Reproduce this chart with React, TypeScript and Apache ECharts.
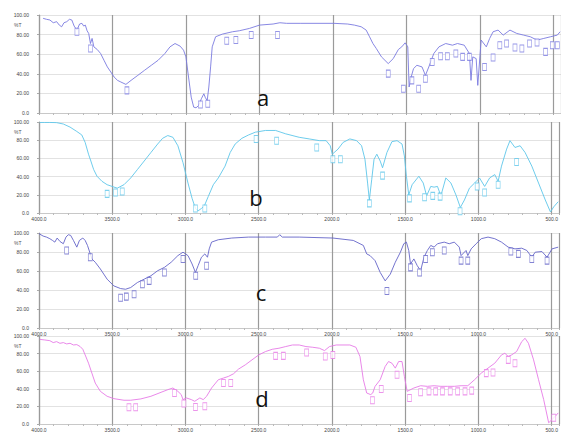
import React, { useEffect, useRef } from "react";
import * as echarts from "echarts";

// Spectrum a
const aWn = [3972,3949,3926,3903,3880,3862,3846,3830,3811,3793,3777,3761,3742,3724,3708,3696,3685,3673,3662,3650,3639,3627,3604,3581,3558,3535,3512,3489,3466,3443,3409,3374,3328,3282,3236,3190,3144,3109,3075,3040,3017,3001,2983,2965,2948,2932,2914,2896,2879,2868,2856,2845,2833,2822,2799,2753,2684,2638,2569,2500,2408,2362,2316,2224,1994,1901,1855,1809,1775,1752,1729,1706,1671,1625,1591,1556,1533,1510,1492,1483,1469,1453,1430,1395,1372,1349,1315,1280,1234,1188,1154,1108,1073,1062,1050,1027,1016,993,958,935,912,878,843,797,751,705,659,613,567,521,475,456];
const aT = [96.6,95.6,94.9,92.1,93.2,89.7,88.0,92.1,93.2,95.6,94.9,88.7,84.6,90.8,91.5,88.7,89.7,83.9,81.2,70.9,76.1,67.5,64.8,60.7,53.8,47.0,41.9,36.7,33.3,31.6,29.2,33.3,38.4,43.6,48.7,53.8,60.7,67.5,70.9,68.2,64.1,57.3,36.7,16.2,6.0,5.3,7.7,14.5,19.6,15.5,12.8,26.5,47.0,67.5,77.8,80.5,82.9,83.9,86.3,89.7,90.8,92.1,91.5,91.5,91.5,90.8,89.7,88.0,84.6,77.8,70.9,65.8,57.3,50.4,55.5,64.8,67.5,71.6,67.5,26.5,36.7,45.3,48.7,47.0,38.4,47.0,60.7,67.5,70.9,69.2,70.9,69.2,60.7,33.3,57.3,55.5,28.2,74.4,67.5,76.1,82.9,84.6,79.5,84.6,81.2,79.5,77.8,74.4,76.1,77.8,79.5,82.9];
const aPkWn = [3742,3650,3402,2902,2852,2723,2661,2557,2378,1625,1522,1464,1418,1372,1326,1269,1223,1165,1119,1073,970,912,866,820,763,716,664,613,555,509,475];
const aPkT = [82.9,65.8,23.1,8.7,9.4,73.7,74.4,79.5,79.5,40.2,24.8,33.3,24.8,35.0,52.1,57.9,57.9,60.7,57.3,57.3,47.0,56.6,69.2,70.9,66.8,65.8,70.9,72.0,62.4,69.2,69.2];

// Spectrum b
const bWn = [3995,3961,3926,3880,3834,3788,3742,3708,3685,3662,3646,3627,3604,3570,3535,3501,3466,3420,3374,3328,3282,3236,3190,3156,3121,3086,3052,3017,2983,2955,2932,2914,2891,2872,2845,2810,2776,2730,2695,2661,2615,2569,2523,2454,2385,2316,2224,2155,2086,2040,2012,1998,1980,1959,1924,1878,1832,1798,1775,1757,1745,1729,1713,1694,1671,1655,1625,1591,1556,1522,1506,1492,1476,1453,1407,1377,1354,1326,1303,1280,1257,1223,1188,1154,1124,1096,1062,1027,993,958,924,889,866,843,808,785,751,716,682,636,590,544,509,486,456];
const bT = [99.5,99.5,99.5,99.3,97.8,94.4,89.6,85.8,77.6,64.6,57.1,47.8,40.4,34.8,31.1,29.2,27.3,31.1,38.5,47.8,57.1,66.5,75.8,82.1,85.1,83.2,73.9,55.3,32.9,16.1,5.0,2.4,5.0,7.6,18.0,31.1,38.5,51.5,66.5,75.8,82.1,85.8,88.8,90.7,90.7,87.0,83.2,81.4,79.5,79.5,73.9,64.6,67.2,70.2,77.6,81.4,79.5,73.9,59.0,32.9,14.3,36.6,59.0,64.6,57.1,49.7,66.5,78.4,79.5,75.8,62.7,40.4,19.9,31.1,40.4,32.9,18.8,29.2,28.4,29.2,18.8,38.5,32.9,19.9,6.1,14.3,27.3,32.9,38.5,29.2,38.5,42.2,34.8,51.5,70.2,79.5,72.0,73.9,66.5,51.5,32.9,14.3,1.2,6.8,12.4];
const bPkWn = [3535,3478,3432,2932,2868,2518,2378,2104,1994,1943,1745,1655,1471,1368,1312,1262,1126,1009,958,866,740];
const bPkT = [21.0,22.5,23.6,5.0,5.0,81.4,79.5,72.0,59.0,59.0,10.6,41.1,16.1,17.3,18.8,18.0,2.0,29.2,22.5,31.1,56.0];

// Spectrum c
const cWn = [4000,3972,3949,3926,3908,3892,3876,3857,3834,3816,3800,3784,3765,3742,3724,3701,3685,3669,3650,3639,3616,3581,3535,3489,3443,3409,3374,3328,3282,3236,3190,3144,3098,3052,3017,2983,2955,2932,2914,2891,2868,2850,2838,2822,2776,2684,2569,2454,2373,2357,2339,2224,1994,1855,1786,1763,1740,1706,1671,1637,1602,1568,1533,1510,1492,1476,1464,1441,1418,1395,1372,1349,1326,1303,1280,1234,1200,1165,1131,1119,1085,1073,1050,1016,981,935,889,843,797,751,705,670,636,613,567,532,498,456];
const cT = [99.3,96.8,95.7,94.0,92.2,90.4,94.7,91.1,88.7,95.7,98.2,97.5,92.2,85.1,92.2,94.7,92.2,86.9,78.0,72.7,69.2,62.1,51.4,44.3,41.5,40.8,42.6,47.9,51.4,55.0,60.3,63.8,69.2,76.2,79.8,76.2,67.4,58.5,65.6,74.5,78.0,74.5,83.3,90.4,92.9,94.7,95.7,95.7,95.7,98.2,95.7,95.7,94.7,92.2,86.9,78.0,76.2,70.9,58.5,49.6,56.7,69.2,79.8,88.7,90.4,81.6,67.4,72.7,65.6,60.3,74.5,81.6,86.9,85.1,88.7,90.4,88.7,90.4,85.1,76.2,81.6,76.2,83.3,88.7,94.0,95.7,94.0,90.4,85.1,83.3,84.0,81.6,74.5,79.8,80.5,74.5,83.3,85.1];
const cPkWn = [3811,3650,3443,3404,3351,3294,3248,3144,3017,2930,2856,1625,1464,1402,1361,1315,1234,1119,1073,779,728,636,532];
const cPkT = [81.6,74.5,31.9,33.0,35.5,46.1,49.6,58.5,72.7,55.0,65.6,39.0,63.8,58.5,72.7,79.8,81.6,70.9,70.9,80.5,78.0,72.7,70.9];

// Spectrum d
const dWn = [3995,3961,3926,3903,3880,3857,3834,3811,3788,3765,3742,3719,3701,3685,3662,3639,3616,3581,3535,3489,3420,3374,3305,3236,3167,3121,3086,3052,3029,3017,2994,2960,2937,2902,2879,2856,2822,2776,2741,2707,2672,2638,2592,2546,2500,2454,2408,2362,2316,2270,2224,2178,2132,2086,2051,2017,1971,1878,1837,1809,1786,1763,1736,1722,1706,1671,1637,1614,1591,1568,1545,1522,1506,1487,1441,1395,1349,1303,1257,1211,1165,1119,1073,1027,981,935,889,843,820,797,774,740,705,682,659,624,590,555,521,498,475,456];
const dT = [96.2,95.5,94.7,92.5,93.6,91.7,92.5,91.0,91.7,89.8,90.2,88.0,84.9,78.5,69.1,57.8,46.5,37.1,31.5,28.8,27.0,27.0,28.5,31.5,36.0,39.0,40.9,37.1,33.4,27.7,29.6,27.7,25.8,29.6,27.7,31.5,40.9,50.3,52.2,54.1,57.1,62.4,67.2,72.9,78.5,82.3,84.9,86.1,88.0,89.8,89.8,88.0,87.2,86.1,83.4,88.0,89.8,89.8,87.2,76.7,50.3,35.2,33.4,35.2,42.8,50.3,65.4,71.0,69.1,63.5,71.0,71.0,54.1,37.1,40.9,43.5,42.8,43.5,42.8,42.8,42.8,43.5,43.5,50.3,57.8,63.5,69.1,78.5,80.4,76.7,78.5,82.3,93.6,97.4,91.7,72.9,50.3,27.7,1.4,5.1,8.9,12.6];
const dPkWn = [3386,3340,3075,3011,2932,2868,2741,2691,2385,2332,2173,2046,1994,1724,1664,1556,1471,1395,1338,1292,1246,1193,1142,1092,1046,947,901,797,751,486];
const dPkT = [19.0,19.0,35.2,23.2,19.4,20.2,46.5,46.5,77.4,77.4,81.2,76.7,78.5,27.0,39.8,55.9,29.6,36.0,37.1,37.1,37.1,37.1,37.1,37.1,37.9,57.8,58.6,72.9,69.1,7.0];

const panelLetters = ["a", "b", "c", "d"];
const yUnit = "%T";
const WN_MAX = 4000;
const WN_MIN = 450;

const colors = ["#7a7ae0", "#5ec6ea", "#6464c8", "#e77ae6"];
const grids = [
  { top: 15, height: 98, showX: false, letter: [263, 97] },
  { top: 122, height: 91, showX: true, letter: [256, 197] },
  { top: 233, height: 95, showX: true, letter: [261, 292] },
  { top: 336, height: 90, showX: true, letter: [262, 398] },
];

const pair = (wn: number[], t: number[]) => {
  const n = Math.min(wn.length, t.length);
  const out: number[][] = [];
  for (let i = 0; i < n; i++) out.push([WN_MAX - wn[i], t[i]]);
  return out;
};

export default function App() {
  const ref = useRef<HTMLDivElement>(null);
  useEffect(() => {
    if (!ref.current) return;
    const chart = echarts.init(ref.current, undefined, { renderer: "svg" });
    const lines = [pair(aWn, aT), pair(bWn, bT), pair(cWn, cT), pair(dWn, dT)];
    const peaks = [pair(aPkWn, aPkT), pair(bPkWn, bPkT), pair(cPkWn, cPkT), pair(dPkWn, dPkT)];
    const series: any[] = [];
    lines.forEach((d, i) => {
      series.push({
        type: "line",
        xAxisIndex: i,
        yAxisIndex: i,
        data: d,
        showSymbol: false,
        symbol: "none",
        lineStyle: { color: colors[i], width: 0.9 },
        z: 3,
      });
      series.push({
        type: "scatter",
        xAxisIndex: i,
        yAxisIndex: i,
        data: peaks[i],
        symbol: "rect",
        symbolSize: [4, 7],
        itemStyle: { color: "#ffffff", borderColor: colors[i], borderWidth: 0.8 },
        z: 4,
      });
    });
    const graphic: any[] = [];
    grids.forEach((g, i) => {
      graphic.push({
        type: "text",
        x: g.letter[0],
        y: g.letter[1],
        style: {
          text: panelLetters[i],
          fontSize: 22,
          fontFamily: "Open Sans",
          fill: "#111",
          align: "center",
          verticalAlign: "middle",
        },
        z: 10,
      });
      graphic.push({
        type: "text",
        x: 14,
        y: g.top + 10,
        style: { text: yUnit, fontSize: 5, fill: "#555", verticalAlign: "middle" },
      });
    });
    chart.setOption({
      animation: false,
      backgroundColor: "#ffffff",
      grid: grids.map((g) => ({ left: 39, right: 0, top: g.top, height: g.height })),
      xAxis: grids.map((g, i) => ({
        type: "value",
        gridIndex: i,
        min: 0,
        max: WN_MAX - WN_MIN,
        interval: 500,
        axisLine: { show: true, lineStyle: { color: "#c8c8c8", width: 1 } },
        axisTick: { show: true, length: 2, lineStyle: { color: "#aaa" } },
        minorTick: { show: true, splitNumber: 5, length: 2, lineStyle: { color: "#bbb" } },
        splitLine: { show: true, lineStyle: { color: "#9a9a9a", width: 1.2 } },
        axisLabel: {
          show: g.showX,
          fontSize: 5,
          color: "#444",
          margin: 3,
          formatter: (v: number) => (WN_MAX - v).toFixed(1),
        },
      })),
      yAxis: grids.map((g, i) => ({
        type: "value",
        gridIndex: i,
        min: 0,
        max: 100,
        interval: 20,
        axisLine: { show: true, lineStyle: { color: "#9a9a9a", width: 1.2 } },
        axisTick: { show: true, length: 2, lineStyle: { color: "#aaa" } },
        splitLine: { show: true, lineStyle: { color: "#e2e2e2", width: 1 } },
        axisLabel: {
          fontSize: 5,
          color: "#444",
          margin: 10,
          formatter: (v: number) => (v === 0 ? "0.0" : v.toFixed(2)),
        },
      })),
      series,
      graphic,
    });
    return () => chart.dispose();
  }, []);
  return (
    <div
      ref={ref}
      style={{ position: "fixed", left: 0, top: 0, width: 561, height: 432, background: "#fff" }}
    />
  );
}
